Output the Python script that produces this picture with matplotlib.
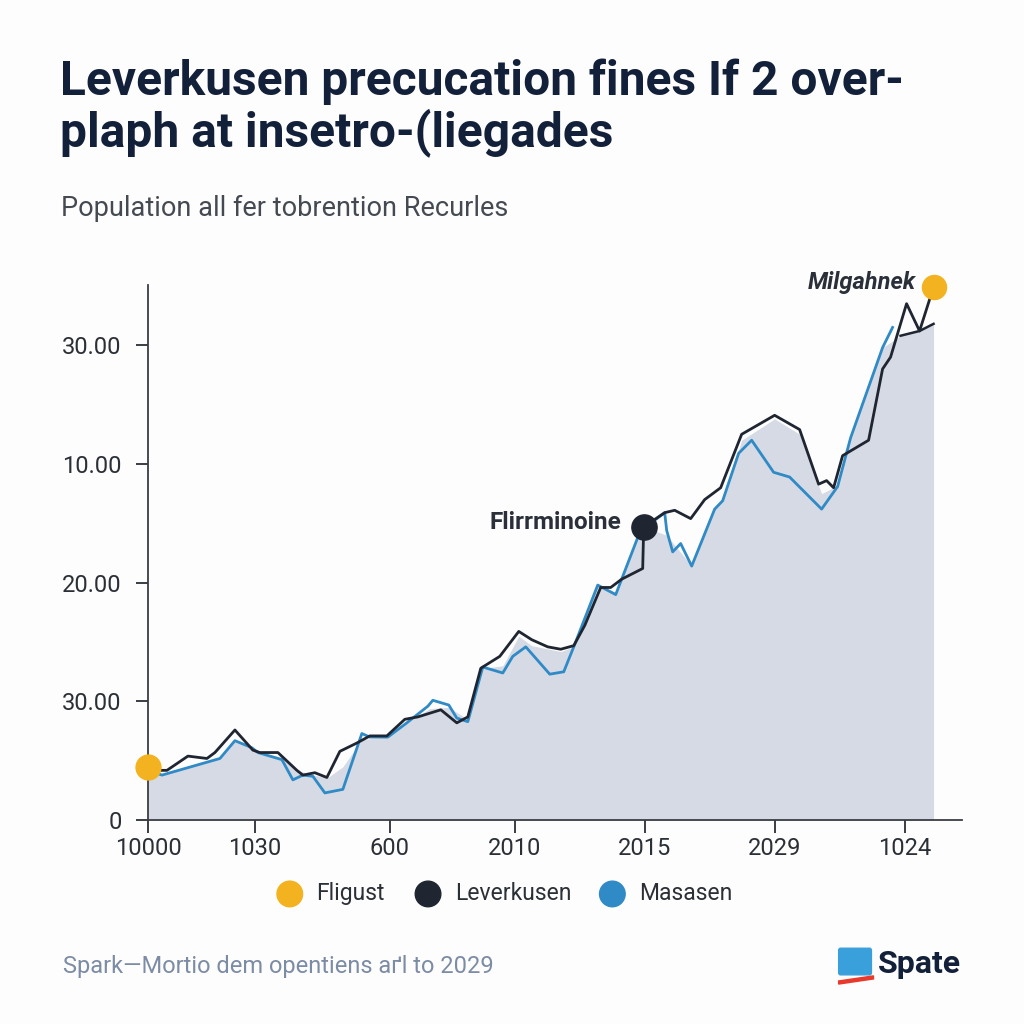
import matplotlib.pyplot as plt
from matplotlib.patches import FancyBboxPatch, Polygon

plt.rcParams['font.family'] = ['Roboto', 'DejaVu Sans']

# Tick positions / labels (as printed on the chart)
x_ticks = [0, 107, 242, 367, 497, 627, 757]
x_labels = ['10000', '1030', '600', '2010', '2015', '2029', '1024']
y_ticks = [0, 1, 2, 3, 4]
y_labels = ['0', '30.00', '20.00', '10.00', '30.00']

# Leverkusen (dark line)
lev_x = [0, 9, 19, 40, 59, 67, 87, 105, 112, 130, 149, 155, 167, 179, 192, 209, 222,
         239, 257, 270, 293, 309, 320, 333, 352, 371, 384, 400, 413, 426, 437, 453,
         463, 474, 495, 496, 517, 527, 543, 557, 573, 594, 627, 652, 671, 679, 686,
         695, 721, 735, 743, 759, 772, 786]
lev_y = [0.42, 0.42, 0.42, 0.54, 0.52, 0.57, 0.76, 0.59, 0.57, 0.57, 0.42, 0.38, 0.40,
         0.36, 0.58, 0.65, 0.71, 0.71, 0.85, 0.87, 0.93, 0.82, 0.87, 1.28, 1.38, 1.59,
         1.52, 1.46, 1.44, 1.47, 1.64, 1.96, 1.96, 2.03, 2.12, 2.47, 2.59, 2.61, 2.54,
         2.70, 2.80, 3.25, 3.41, 3.29, 2.83, 2.86, 2.80, 3.07, 3.20, 3.80, 3.90, 4.35,
         4.12, 4.49]

# Masasen (blue line)
mas_x = [0, 14, 72, 87, 104, 110, 134, 145, 155, 165, 177, 195, 214, 222, 240, 259,
         280, 285, 301, 309, 320, 335, 355, 365, 378, 402, 416, 426, 450, 468, 490,
         506, 517, 519, 525, 533, 544, 567, 575, 591, 604, 626, 642, 674, 690, 703,
         735, 745]
mas_y = [0.42, 0.38, 0.52, 0.67, 0.61, 0.57, 0.51, 0.34, 0.38, 0.37, 0.23, 0.26, 0.73,
         0.70, 0.70, 0.82, 0.96, 1.01, 0.97, 0.86, 0.83, 1.29, 1.24, 1.38, 1.46, 1.23,
         1.25, 1.46, 1.98, 1.90, 2.38, 2.52, 2.59, 2.44, 2.26, 2.33, 2.14, 2.62, 2.69,
         3.09, 3.20, 2.93, 2.89, 2.62, 2.81, 3.22, 3.98, 4.15]

# Fligust (shaded area)
fli_x = [0, 14, 40, 72, 87, 110, 134, 150, 165, 180, 195, 214, 240, 259, 282, 301,
         320, 335, 355, 371, 384, 413, 426, 450, 468, 490, 506, 519, 544, 567, 575,
         594, 627, 652, 674, 690, 703, 735, 753, 772, 786]
fli_y = [0.40, 0.38, 0.45, 0.52, 0.67, 0.57, 0.53, 0.42, 0.38, 0.36, 0.45, 0.68, 0.70,
         0.82, 0.94, 0.95, 0.85, 1.28, 1.30, 1.55, 1.47, 1.42, 1.46, 1.98, 1.92, 2.38,
         2.44, 2.40, 2.14, 2.62, 2.69, 3.20, 3.38, 3.25, 2.75, 2.82, 3.22, 3.98, 4.08,
         4.12, 4.18]

navy = '#13203a'
dark = '#1f2531'
blue = '#2f8ac6'
yellow = '#f3b21f'
fill_c = '#d5dae4'

fig = plt.figure(figsize=(10.24, 10.24), dpi=100, facecolor='#fdfdfd')

fig.text(0.059, 0.943, 'Leverkusen precucation fines If 2 over-\nplaph at insetro-(liegades',
         fontsize=34.5, fontweight='bold', color=navy, va='top', ha='left', linespacing=1.08)
fig.text(0.060, 0.796, 'Population all fer tobrention Recurles', fontsize=19.5,
         color='#454a52', va='center', ha='left')

ax = fig.add_axes([0.1445, 0.199, 0.7945, 0.523])
ax.set_facecolor('#fdfdfd')
ax.fill_between(fli_x, 0, fli_y, color=fill_c, lw=0, zorder=1)
ax.plot(fli_x[-3:], fli_y[-3:], color=dark, lw=1.8, zorder=2)
ax.plot(mas_x, mas_y, color=blue, lw=2, zorder=3)
ax.plot(lev_x, lev_y, color=dark, lw=2, zorder=4)

ax.scatter([fli_x[0]], [0.45], s=320, color=yellow, zorder=6, clip_on=False)
ax.scatter([lev_x[-1]], [lev_y[-1]], s=300, color=yellow, zorder=6, clip_on=False)
ax.scatter([lev_x[35]], [lev_y[35]], s=330, color=dark, zorder=6)

ax.text(lev_x[-1] - 18, lev_y[-1] + 0.04, 'Milgahnek', fontsize=17, fontweight='bold',
        fontstyle='italic', color='#2a2f3a', ha='right', va='center')
ax.text(lev_x[35] - 22, lev_y[35] + 0.04, 'Flirrminoine', fontsize=17.5, fontweight='bold',
        color='#2a2f3a', ha='right', va='center')

ax.set_xlim(0, 814)
ax.set_ylim(0, 4.51)
ax.set_xticks(x_ticks)
ax.set_xticklabels(x_labels)
ax.set_yticks(y_ticks)
ax.set_yticklabels(y_labels)
ax.tick_params(axis='both', labelsize=17, colors='#2b2f36', length=9, width=1.3, pad=3)
ax.tick_params(axis='y', pad=10)
for s in ['top', 'right']:
    ax.spines[s].set_visible(False)
for s in ['left', 'bottom']:
    ax.spines[s].set_color('#3a3d44')
    ax.spines[s].set_linewidth(1.3)

# legend row
leg_names = ['Fligust', 'Leverkusen', 'Masasen']
leg_colors = [yellow, dark, blue]
leg_x = [0.283, 0.418, 0.598]
for name, c, lx in zip(leg_names, leg_colors, leg_x):
    fig.patches.append(plt.Circle((lx, 0.127), 0.0125, color=c, transform=fig.transFigure))
    fig.text(lx + 0.026, 0.127, name, fontsize=16.5, color='#2b2f36', va='center', ha='left')

fig.text(0.062, 0.056, 'Spark\u2014Mortio dem opentiens a\u0491l to 2029', fontsize=17,
         color='#7d8ca5', va='center', ha='left')

# logo
fig.patches.append(FancyBboxPatch((0.821, 0.05), 0.028, 0.022, boxstyle='round,pad=0.002',
                                  color='#3aa0dc', transform=fig.transFigure))
fig.patches.append(Polygon([[0.819, 0.042], [0.853, 0.047], [0.853, 0.044], [0.819, 0.039]],
                           closed=True, color='#e8392c', transform=fig.transFigure))
fig.text(0.857, 0.059, 'Spate', fontsize=23, fontweight='bold', color=navy, va='center', ha='left')

fig.savefig('out.png', dpi=100, facecolor=fig.get_facecolor())
